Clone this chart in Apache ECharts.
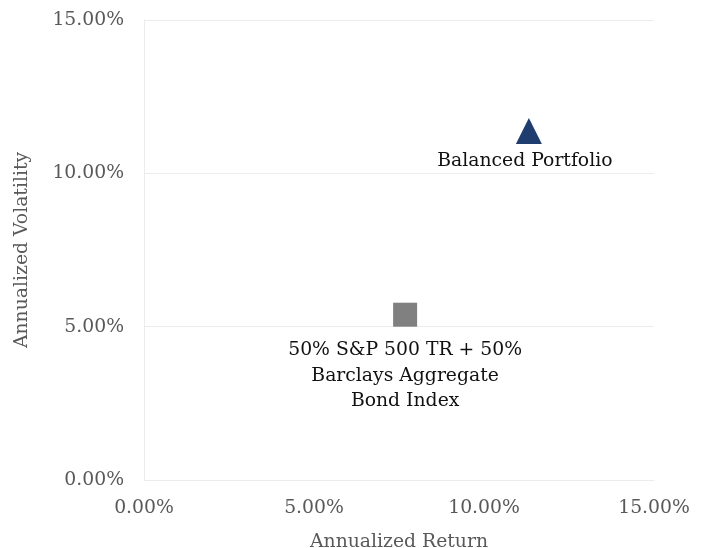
<!DOCTYPE html>
<html>
<head>
<meta charset="utf-8">
<script src="https://cdn.jsdelivr.net/npm/echarts@6/dist/echarts.min.js"></script>
<style>html,body{margin:0;padding:0;background:#fff}#c{width:703px;height:548px}</style>
</head>
<body>
<div id="c"></div>
<script>
const pointNames = ['Balanced Portfolio', '50% S&P 500 TR + 50%\nBarclays Aggregate\nBond Index'];
const annualizedReturn = [0.1132, 0.0768];
const annualizedVolatility = [0.1138, 0.0539];
const xTicks = [0, 0.05, 0.10, 0.15];
const yTicks = [0, 0.05, 0.10, 0.15];

const FONT = '"DejaVu Serif", serif';
const FS = 18.8;
const chart = echarts.init(document.getElementById('c'));
const pct = v => (v * 100).toFixed(2) + '%';
chart.setOption({
  animation: false,
  grid: { left: 144, right: 49, top: 20, bottom: 68, containLabel: false, outerBoundsMode: 'none' },
  xAxis: {
    type: 'value', min: xTicks[0], max: xTicks[xTicks.length - 1], interval: 0.05,
    name: 'Annualized Return', nameLocation: 'middle', nameGap: 53,
    nameTextStyle: { color: '#595959', fontFamily: FONT, fontSize: FS },
    axisLine: { show: true, lineStyle: { color: '#ececec' } },
    axisTick: { show: false },
    splitLine: { show: false },
    axisLabel: { formatter: pct, color: '#595959', fontFamily: FONT, fontSize: FS, margin: 19 }
  },
  yAxis: {
    type: 'value', min: yTicks[0], max: yTicks[yTicks.length - 1], interval: 0.05,
    name: 'Annualized Volatility', nameLocation: 'middle', nameGap: 112,
    nameTextStyle: { color: '#595959', fontFamily: FONT, fontSize: FS },
    axisLine: { show: true, lineStyle: { color: '#ececec' } },
    axisTick: { show: false },
    splitLine: { show: true, lineStyle: { color: '#ececec' } },
    axisLabel: { formatter: pct, color: '#595959', fontFamily: FONT, fontSize: FS, margin: 20 }
  },
  series: [
    {
      type: 'scatter', symbol: 'triangle', symbolSize: 26,
      itemStyle: { color: '#1f3e6f', opacity: 1 },
      data: [[annualizedReturn[0], annualizedVolatility[0]]],
      label: { show: true, position: 'bottom', distance: 8, formatter: () => pointNames[0],
        color: '#111', fontFamily: FONT, fontSize: FS, offset: [-4, 0] }
    },
    {
      type: 'scatter', symbol: 'rect', symbolSize: 24,
      itemStyle: { color: '#808080', opacity: 1 },
      data: [[annualizedReturn[1], annualizedVolatility[1]]],
      label: { show: true, position: 'bottom', distance: 11, formatter: () => pointNames[1],
        color: '#111', fontFamily: FONT, fontSize: FS, lineHeight: 25.5, align: 'center' }
    }
  ]
});
</script>
</body>
</html>
